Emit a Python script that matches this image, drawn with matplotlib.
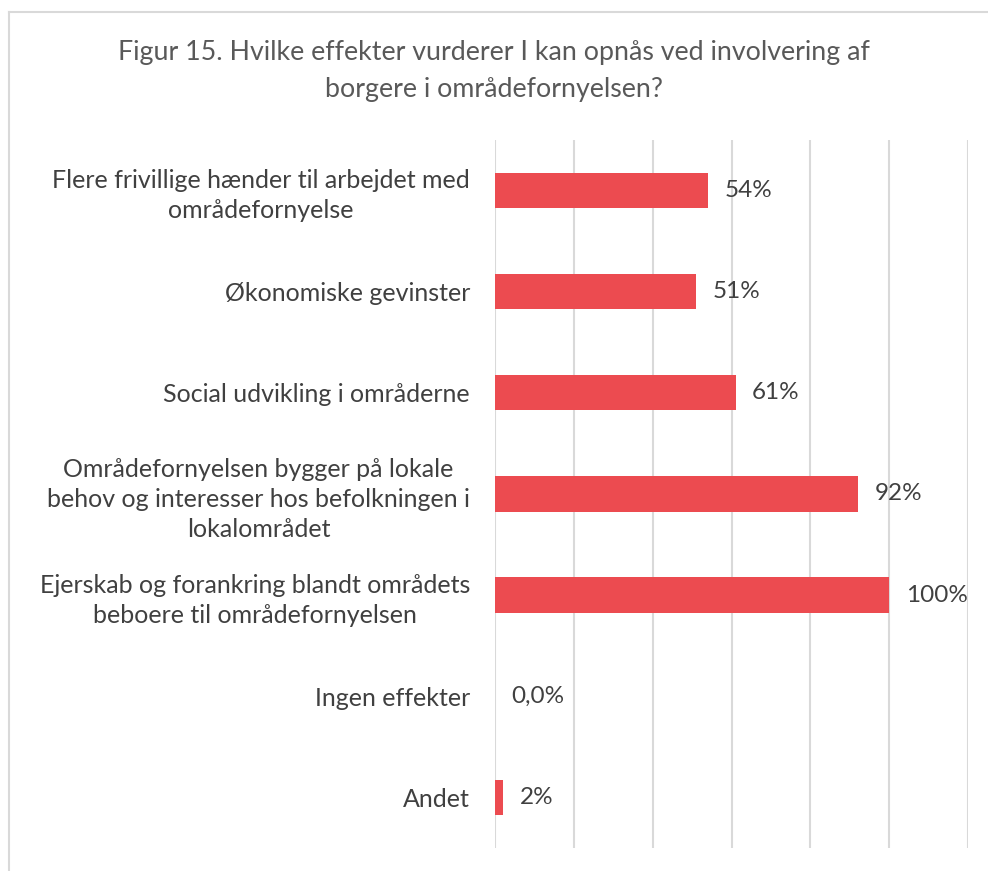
import matplotlib
matplotlib.use("Agg")
import matplotlib.pyplot as plt
from matplotlib.lines import Line2D

plt.rcParams["font.family"] = ["Lato", "DejaVu Sans"]

categories = [
    "Flere frivillige hænder til arbejdet med\nområdefornyelse",
    "Økonomiske gevinster",
    "Social udvikling i områderne",
    "Områdefornyelsen bygger på lokale\nbehov og interesser hos befolkningen i\nlokalområdet",
    "Ejerskab og forankring blandt områdets\nbeboere til områdefornyelsen",
    "Ingen effekter",
    "Andet",
]
values = [54, 51, 61, 92, 100, 0, 2]
value_labels = ["54%", "51%", "61%", "92%", "100%", "0,0%", "2%"]
title = "Figur 15. Hvilke effekter vurderer I kan opnås ved involvering af\nborgere i områdefornyelsen?"

fig = plt.figure(figsize=(9.88, 8.71), dpi=100)
ax = fig.add_axes([0.501, 0.0264, 0.479, 0.813])

y = list(range(len(categories)))
ax.barh(y, values, height=0.35, color="#EC4B50", zorder=3)
ax.set_ylim(len(categories) - 0.5, -0.5)
ax.set_xlim(0, 120)
ax.set_xticks(range(0, 121, 20))
ax.xaxis.grid(True, color="#D9D9D9", linewidth=1.5, zorder=0)
ax.tick_params(axis="x", length=0, labelbottom=False)
ax.tick_params(axis="y", length=0, pad=18, labelsize=18, labelcolor="#404040")
ax.set_yticks(y)
ax.set_yticklabels(categories, ha="right", multialignment="center", linespacing=1.36)
for s in ax.spines.values():
    s.set_visible(False)

for yi, v, lab in zip(y, values, value_labels):
    ax.annotate(lab, (v, yi), xytext=(12, 0), textcoords="offset points",
                va="center", ha="left", fontsize=17.5, color="#404040")

fig.text(0.5, 0.919, title, ha="center", va="center", fontsize=19.3,
         color="#595959", linespacing=1.6)

# chart frame (only left and top edges visible)
fig.add_artist(Line2D([9 / 988, 9 / 988], [0, 1 - 12 / 871], transform=fig.transFigure,
                      color="#D9D9D9", linewidth=1.5))
fig.add_artist(Line2D([9 / 988, 1], [1 - 12 / 871, 1 - 12 / 871], transform=fig.transFigure,
                      color="#D9D9D9", linewidth=1.5))

fig.savefig("out.png", dpi=100)
